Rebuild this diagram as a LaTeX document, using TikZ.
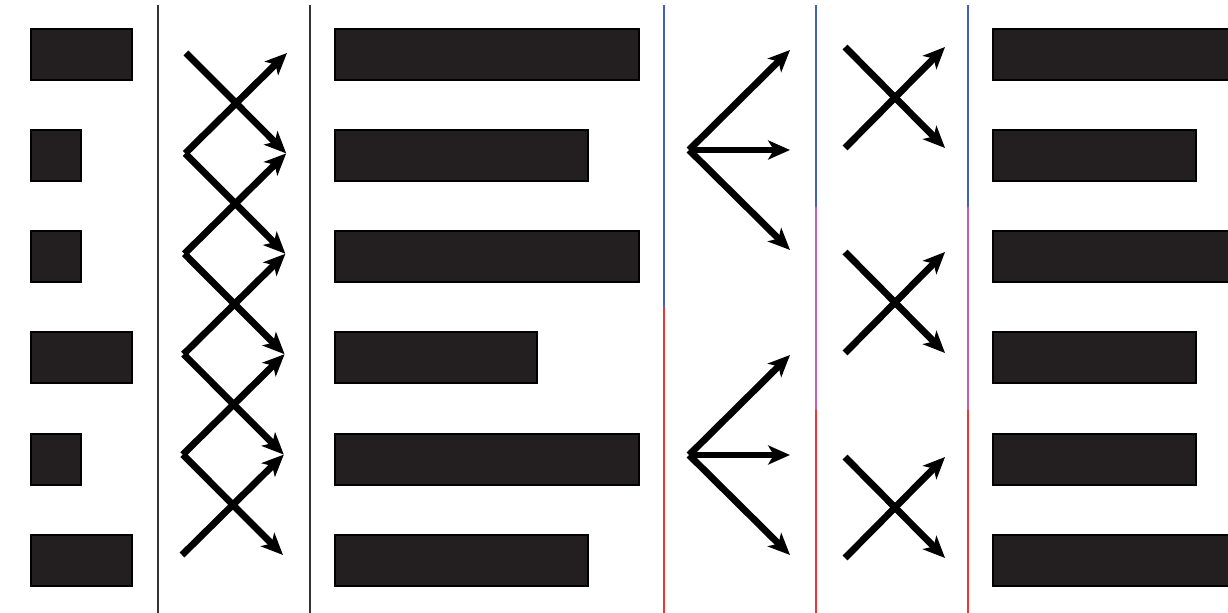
\documentclass[tikz,border=0pt]{standalone}
\usepackage{tikz}
\usetikzlibrary{arrows.meta}
\usepackage{tkz-euclide}
\definecolor{barfill}{RGB}{35,31,32}
\definecolor{ruleblue}{RGB}{66,98,190}
\definecolor{rulered}{RGB}{238,52,52}
\definecolor{rulepink}{RGB}{196,92,190}
\tikzset{
  bar/.style={fill=barfill, draw=black, line width=0.3pt},
  rule/.style={line width=0.45pt},
  jump/.style={line width=1.95pt, line cap=butt,
    -{Stealth[length=6.2pt,width=5.4pt,inset=1.6pt]}}
}

\begin{document}
\begin{tikzpicture}[x=0.01cm,y=-0.01cm]
            \useasboundingbox (0,0) rectangle (1228,613);
            % bars
            \foreach \y/\w in {29/132,130/81,231/81,332/132,434/81,535/132}{
                \draw[bar] (31,\y) rectangle (\w,\y+51);
            }
            \foreach \y/\w in {29/639,130/588,231/639,332/537,434/639,535/588}{
                \draw[bar] (335,\y) rectangle (\w,\y+51);
            }
            \foreach \y/\w in {29/1232,130/1196,231/1232,332/1196,434/1196,535/1232}{
                \draw[bar] (993,\y) rectangle (\w,\y+51);
            }
            % rules
            \draw[rule, black!80] (158,5) -- (158,613);
            \draw[rule, black!80] (310,5) -- (310,613);
            \draw[rule, ruleblue] (664,5) -- (664,307);
            \draw[rule, rulered] (664,307) -- (664,613);
            \foreach \x in {816,968}{
                \draw[rule, ruleblue] (\x,5) -- (\x,207);
                \draw[rule, rulepink] (\x,207) -- (\x,410);
                \draw[rule, rulered] (\x,410) -- (\x,613);
            }
            % zigzag
            \foreach \i in {1,...,6}{
                \pgfmathsetmacro{\yy}{53+100.4*(\i-1)}
                \pgfmathsetmacro{\xl}{186-0.8*(\i-1)}
                \pgfmathsetmacro{\xr}{\xl+101}
                \tkzDefPoint(\xl,\yy){L\i}
                \tkzDefPoint(\xr,\yy){R\i}
            }
            \foreach \i [evaluate=\i as \j using int(\i+1)] in {1,...,5}{
                \tkzDrawSegment[jump](L\i,R\j)
                \tkzDrawSegment[jump](L\j,R\i)
            }
            % fans
            \tkzDefPoints{689/150/F_1, 790/50/A_1, 790/150/A_2, 790/250/A_3}
            \tkzDefPoints{689/455/F_2, 790/355/B_1, 790/455/B_2, 790/555/B_3}
            \tkzDrawSegments[jump](F_1,A_1 F_1,A_2 F_1,A_3)
            \tkzDrawSegments[jump](F_2,B_1 F_2,B_2 F_2,B_3)
            % crosses
            \foreach \k in {0,1,2}{
                \pgfmathsetmacro{\yt}{47+205*\k}
                \pgfmathsetmacro{\yb}{\yt+101}
                \tkzDefPoint(845,\yt){P\k}
                \tkzDefPoint(945,\yb){Q\k}
                \tkzDefPoint(845,\yb){S\k}
                \tkzDefPoint(945,\yt){T\k}
                \tkzDrawSegment[jump](P\k,Q\k)
                \tkzDrawSegment[jump](S\k,T\k)
            }
\end{tikzpicture}
\end{document}
